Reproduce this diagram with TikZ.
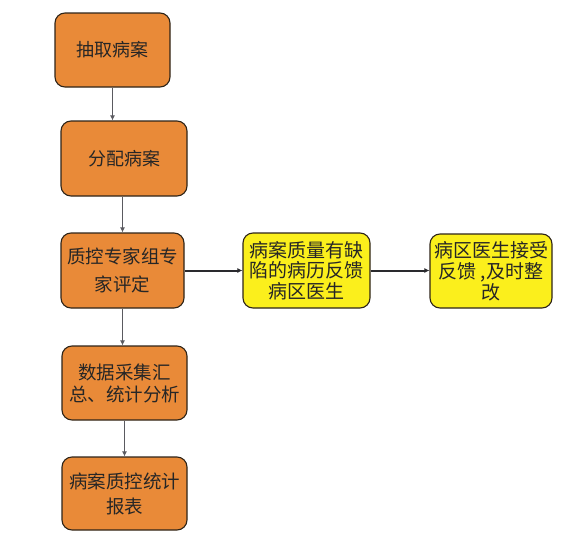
\documentclass[tikz,border=0pt]{standalone}
\usepackage{fontspec}
\setmainfont{Noto Sans CJK SC}
\usetikzlibrary{arrows.meta}
\definecolor{boxorange}{HTML}{E98A38}
\definecolor{boxyellow}{HTML}{FBEF1C}
\definecolor{edgedark}{HTML}{2E2418}
\definecolor{arrgray}{HTML}{5A5A60}
\definecolor{arrdark}{HTML}{2A2A2E}
\tikzset{
  procbox/.style={draw=edgedark, line width=1.1pt, rounded corners=10pt, inner sep=0pt, align=center, font=\fontsize{18}{22}\selectfont, text=black!85},
  orangebox/.style={procbox, fill=boxorange},
  yellowbox/.style={procbox, fill=boxyellow},
  varrow/.style={draw=arrgray, line width=1.5pt, -{Latex[length=5pt,width=5pt]}},
  harrow/.style={draw=arrdark, line width=2pt, -{Latex[length=5pt,width=5pt]}},
}
\begin{document}
\begin{tikzpicture}[x=1pt,y=-1pt]
\useasboundingbox (0,0) rectangle (573,549);
\node[orangebox, minimum width=115pt, minimum height=74pt] (b1) at (112.5,50) {抽取病案};
\node[orangebox, minimum width=126pt, minimum height=75pt] (b2) at (124,158.5) {分配病案};
\node[orangebox, minimum width=123pt, minimum height=75pt, font=\fontsize{18.5}{28}\selectfont] (b3) at (122.5,270.5) {质控专家组专\\家评定};
\node[yellowbox, minimum width=127pt, minimum height=75pt, font=\fontsize{19}{20.5}\selectfont] (y2) at (306.5,270.5) {病案质量有缺\\陷的病历反馈\\病区医生};
\node[yellowbox, minimum width=122pt, minimum height=74pt, font=\fontsize{19}{21}\selectfont] (y3) at (491,271) {病区医生接受\\反馈 ,及时整\\改};
\node[orangebox, minimum width=125pt, minimum height=74pt, font=\fontsize{18.5}{22}\selectfont] (b4) at (124.5,383) {数据采集汇\\总、统计分析};
\node[orangebox, minimum width=125pt, minimum height=73pt, font=\fontsize{18.5}{25}\selectfont] (b5) at (124.5,493.5) {病案质控统计\\报表};
\draw[varrow] (b1.south) -- (b1.south |- b2.north);
\draw[varrow] (b2.south -| b3.north) -- (b3.north);
\draw[varrow] (b3.south) -- (b3.south |- b4.north);
\draw[varrow] (b4.south) -- (b5.north);
\draw[harrow] (b3.east) -- (y2.west);
\draw[harrow] (y2.east) -- (y3.west |- y2.east);
\end{tikzpicture}
\end{document}
